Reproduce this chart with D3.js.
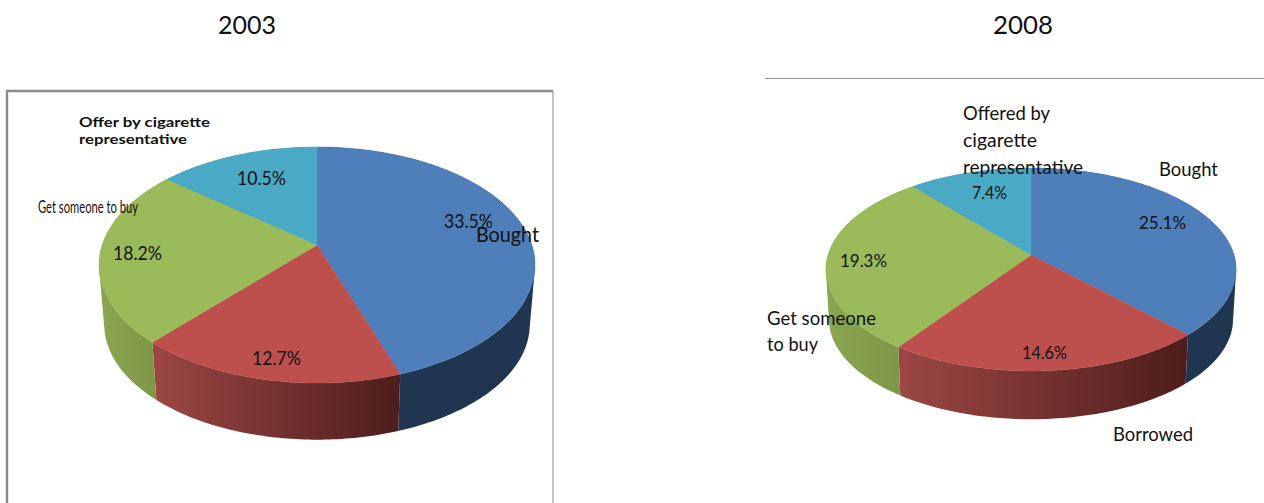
<!DOCTYPE html>
<html>
<head>
<meta charset="utf-8">
<script src="https://cdnjs.cloudflare.com/ajax/libs/d3/7.8.5/d3.min.js"></script>
<style>
  html, body { margin: 0; padding: 0; background: #fff; overflow: hidden; }
  svg { display: block; }
  text { font-family: Lato, "Open Sans", sans-serif; fill: #111; }
</style>
</head>
<body>
<svg></svg>
<script>
// slice names, same order in both years
var categories = ["Bought", "Borrowed", "Get someone to buy", "Offered by cigarette representative"];
var values2003 = [33.5, 12.7, 18.2, 10.5];
var values2008 = [25.1, 14.6, 19.3, 7.4];
var years = ["2003", "2008"];

// Office colours: top of slice, then wall gradient left -> right
var topColors = ["#4f7fbb", "#bd4f4d", "#9bba59", "#4aa9c4"];
var wallColors = [["#1f3550", "#1f3550"], ["#9c4744", "#4c1d1c"], ["#8ba650", "#7b9446"], ["#37818f", "#37818f"]];

let width = 1264, height = 503;

let svg = d3.select("svg")
    .attr("width", width)
    .attr("height", height)
    .attr("viewBox", "0 0 " + width + " " + height);

let defs = svg.append("defs");

// the pie is tilted with perspective, so the far edge is squashed
// cx/cy = centre point on screen, a/b = radii, k = perspective, wallDrop/wallScale = lower disc
let charts = [
  { values: values2003, cx: 317, cy: 245, a: 214.8, b: 114.6, k: 0.1695, wallDrop: 60, wallScale: 0.976 },
  { values: values2008, cx: 1031, cy: 255, a: 203, b: 99.4, k: 0.1429, wallDrop: 50, wallScale: 0.985 }
];

function project(c, angle, drop, scale) {
  let u = Math.sin(angle), v = Math.cos(angle);
  let w = 1 + c.k * v;
  return [c.cx + scale * c.a * u / w, c.cy + drop - scale * c.b * v / w];
}

function arcPoints(c, d, drop, scale) {
  let n = Math.ceil((d.endAngle - d.startAngle) * 60);
  return d3.range(n + 1).map(i => {
    return project(c, d.startAngle + (d.endAngle - d.startAngle) * i / n, drop, scale);
  });
}

let line = d3.line();
let pie = d3.pie().sort(null);

// wall is a strip of small quads, all wound the same way so the sides of the drum fill in
function wallPath(c, d) {
  let upper = arcPoints(c, d, 0, 1);
  let lower = arcPoints(c, d, c.wallDrop, c.wallScale);
  let out = "";
  for (let i = 0; i < upper.length - 1; i++) {
    let quad = [upper[i], upper[i + 1], lower[i + 1], lower[i]];
    if (d3.polygonArea(quad) < 0) quad.reverse();
    out += line(quad) + "Z";
  }
  return out;
}

charts.forEach((c, ci) => {
  let slices = pie(c.values);
  let g = svg.append("g").attr("class", "pie" + years[ci]);

  // walls first, the top surface hides whatever is at the back
  g.selectAll("path.wall")
    .data(slices)
    .enter()
    .append("path")
    .attr("class", "wall")
    .attr("d", d => wallPath(c, d))
    .attr("fill", (d, i) => {
      let xs = arcPoints(c, d, 0, 1).map(p => p[0]);
      let id = "wall" + ci + "_" + i;
      let grad = defs.append("linearGradient")
          .attr("id", id)
          .attr("gradientUnits", "userSpaceOnUse")
          .attr("x1", d3.min(xs))
          .attr("x2", d3.max(xs))
          .attr("y1", 0)
          .attr("y2", 0);
      grad.append("stop").attr("offset", 0).attr("stop-color", wallColors[i][0]);
      grad.append("stop").attr("offset", 1).attr("stop-color", wallColors[i][1]);
      return "url(#" + id + ")";
    });

  g.selectAll("path.top")
    .data(slices)
    .enter()
    .append("path")
    .attr("class", "top")
    .attr("d", d => line([[c.cx, c.cy]].concat(arcPoints(c, d, 0, 1))) + "Z")
    .attr("fill", (d, i) => topColors[i])
    .attr("stroke", (d, i) => topColors[i])
    .attr("stroke-width", 0.5);
});

// frame around the 2003 picture and the cut off frame line of 2008
svg.append("path")
    .attr("d", "M7,510V91H553V510")
    .attr("fill", "none")
    .attr("stroke", "#8c8c8c")
    .attr("stroke-width", 1);
svg.append("path")
    .attr("d", "M7,510V91H553")
    .attr("fill", "none")
    .attr("stroke", "#8c8c8c")
    .attr("stroke-width", 2.4);
svg.append("line")
    .attr("x1", 765).attr("x2", 1264)
    .attr("y1", 78.5).attr("y2", 78.5)
    .attr("stroke", "#8c8c8c")
    .attr("stroke-width", 1);

// text placement: x, fitted width, middle y, size
function fmt(v) { return v.toFixed(1) + "%"; }
let labels = [
  [years[0], 218, 58, 25, 25],
  [years[1], 993, 60, 25, 25],

  [fmt(values2003[0]), 444, 49, 221, 19],
  [fmt(values2003[1]), 252, 49, 358, 19],
  [fmt(values2003[2]), 113, 49, 253, 19],
  [fmt(values2003[3]), 237, 49, 178, 19],
  ["Bought", 476, 63, 235, 21],
  ["Get someone to buy", 38, 100, 207, 17],
  ["Offer by cigarette", 79, 131, 122, 14, 700],
  ["representative", 79, 108, 139, 14, 700],

  [fmt(values2008[0]), 1139, 47, 223, 18],
  [fmt(values2008[1]), 1022, 45, 353, 18],
  [fmt(values2008[2]), 840, 47, 261, 18],
  [fmt(values2008[3]), 972, 35, 193, 18],
  ["Bought", 1159, 59, 169, 19],
  ["Borrowed", 1113, 80, 434, 19],
  ["Get someone", 767, 109, 318, 19],
  ["to buy", 767, 51, 344, 19],
  ["Offered by", 963, 87, 113, 20],
  ["cigarette", 963, 74, 140, 20],
  ["representative", 963, 120, 167, 20]
];

svg.append("g").selectAll("text")
    .data(labels)
    .enter()
    .append("text")
    .attr("x", d => d[1])
    .attr("y", d => d[3])
    .attr("dy", "0.35em")
    .attr("textLength", d => d[2])
    .attr("lengthAdjust", "spacingAndGlyphs")
    .style("font-size", d => d[4] + "px")
    .style("font-weight", d => d[5] || 400)
    .text(d => d[0]);
</script>
</body>
</html>
